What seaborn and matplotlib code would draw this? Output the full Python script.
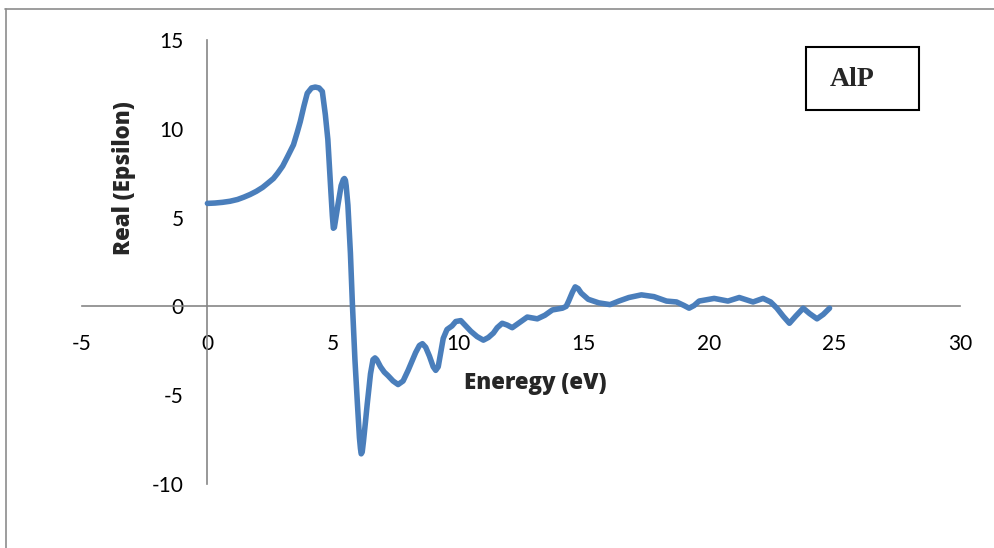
import matplotlib
matplotlib.use("Agg")
import matplotlib.pyplot as plt
import seaborn as sns
import pandas as pd
from matplotlib.lines import Line2D
from matplotlib.patches import Rectangle

energy = [0.0, 0.3, 0.6, 0.9, 1.2, 1.45, 1.7, 1.95, 2.2, 2.4, 2.63, 2.8, 3.0, 3.2, 3.43, 3.58, 3.7, 3.85, 3.98, 4.15, 4.3, 4.45, 4.58, 4.7, 4.8, 4.92, 4.98, 5.02, 5.06, 5.1, 5.2, 5.33, 5.42, 5.46, 5.5, 5.53, 5.6, 5.7, 5.78, 5.88, 5.98, 6.06, 6.1, 6.13, 6.17, 6.22, 6.3, 6.37, 6.5, 6.6, 6.68, 6.75, 6.9, 7.05, 7.2, 7.4, 7.6, 7.8, 8.0, 8.3, 8.45, 8.57, 8.7, 8.85, 9.0, 9.1, 9.2, 9.25, 9.4, 9.55, 9.75, 9.9, 10.1, 10.3, 10.5, 10.75, 11.0, 11.2, 11.4, 11.55, 11.75, 11.95, 12.15, 12.45, 12.75, 12.95, 13.15, 13.45, 13.75, 14.15, 14.3, 14.4, 14.55, 14.66, 14.78, 14.9, 15.18, 15.6, 16.05, 16.4, 16.8, 17.3, 17.8, 18.3, 18.7, 19.0, 19.2, 19.4, 19.6, 20.2, 20.75, 21.2, 21.75, 22.15, 22.45, 22.7, 22.95, 23.2, 23.45, 23.75, 24.0, 24.3, 24.55, 24.8]
real_eps = [5.8, 5.82, 5.86, 5.92, 6.02, 6.15, 6.3, 6.48, 6.7, 6.93, 7.2, 7.5, 7.9, 8.45, 9.1, 9.8, 10.4, 11.3, 12.0, 12.3, 12.35, 12.3, 12.1, 10.8, 9.4, 6.5, 5.1, 4.4, 4.45, 4.8, 5.7, 6.8, 7.15, 7.2, 7.1, 6.8, 5.7, 3.0, 0.1, -3.0, -5.5, -7.4, -8.0, -8.3, -8.2, -7.6, -6.5, -5.5, -3.8, -3.0, -2.9, -3.0, -3.4, -3.7, -3.9, -4.2, -4.4, -4.2, -3.6, -2.6, -2.2, -2.1, -2.3, -2.8, -3.4, -3.6, -3.4, -3.0, -1.8, -1.3, -1.1, -0.85, -0.8, -1.1, -1.4, -1.7, -1.9, -1.75, -1.5, -1.2, -0.95, -1.05, -1.2, -0.9, -0.6, -0.65, -0.7, -0.5, -0.2, -0.1, 0.0, 0.3, 0.8, 1.1, 1.0, 0.75, 0.4, 0.2, 0.1, 0.3, 0.5, 0.65, 0.55, 0.3, 0.25, 0.05, -0.1, 0.05, 0.3, 0.45, 0.3, 0.5, 0.25, 0.45, 0.25, -0.1, -0.55, -0.95, -0.55, -0.1, -0.4, -0.7, -0.45, -0.1]

x_ticks = [-5, 0, 5, 10, 15, 20, 25, 30]
y_ticks = [-10, -5, 0, 5, 10, 15]
x_label = "Eneregy (eV)"
y_label = "Real (Epsilon)"
legend_text = "AlP"

sns.set_style("white")
plt.rcParams['font.family'] = ['Lato', 'DejaVu Sans']

df = pd.DataFrame({"energy": energy, "real": real_eps})

fig = plt.figure(figsize=(9.95, 5.48), dpi=100)
ax = fig.add_axes([82/995, 1-484/548, (960-82)/995, (484-40)/548])
sns.lineplot(data=df, x="energy", y="real", ax=ax, color="#4A7EBB", linewidth=4.0,
             sort=False, estimator=None)
for ln in ax.get_lines():
    ln.set_solid_joinstyle("round")
    ln.set_solid_capstyle("round")
ax.set_xlim(-5, 30)
ax.set_ylim(-10, 15)
ax.set_xticks(x_ticks)
ax.set_yticks(y_ticks)
ax.set_xticklabels([str(v) for v in x_ticks])
ax.set_yticklabels([str(v) for v in y_ticks])

for s in ["top", "right"]:
    ax.spines[s].set_visible(False)
ax.spines["left"].set_position(("data", 0))
ax.spines["bottom"].set_position(("data", 0))
for s in ["left", "bottom"]:
    ax.spines[s].set_color("#868686")
    ax.spines[s].set_linewidth(1.2)
    ax.spines[s].set_zorder(1)
ax.tick_params(axis="x", length=0, pad=20, labelsize=15, colors="black")
ax.tick_params(axis="y", length=0, pad=17, labelsize=15, colors="black")
ax.set_xlabel("")
ax.set_ylabel("")
ax.patch.set_alpha(0)

fig.text(535/995, 1-383/548, x_label, ha="center", va="center", fontsize=16, fontweight="heavy",
         family=["Open Sans", "DejaVu Sans"])
fig.text(124/995, 1-178/548, y_label, ha="center", va="center", fontsize=16, fontweight="heavy",
         rotation=90, family=["Open Sans", "DejaVu Sans"])

# legend box
fig.add_artist(Rectangle((806/995, 1-110/548), (919-806)/995, (110-47)/548,
                         transform=fig.transFigure, fill=False, edgecolor="black", linewidth=1.5))
fig.text(852/995, 1-79/548, legend_text, ha="center", va="center", fontsize=20, fontweight="bold",
         family=["Liberation Serif", "DejaVu Serif"])

# chart-area border
fig.add_artist(Line2D([5/995, 1.0], [1-9/548, 1-9/548], transform=fig.transFigure, color="#8c8c8c", linewidth=1.2))
fig.add_artist(Line2D([6/995, 6/995], [1-9/548, 0.0], transform=fig.transFigure, color="#8c8c8c", linewidth=1.2))

fig.savefig("out.png", dpi=100)
